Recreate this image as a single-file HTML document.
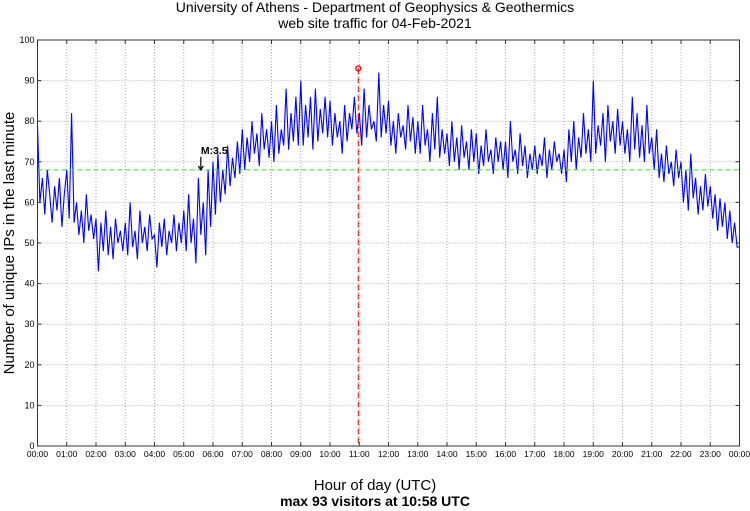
<!DOCTYPE html>
<html><head><meta charset="utf-8"><style>
html,body{margin:0;padding:0;background:#fff;}
svg{display:block;font-family:"Liberation Sans",sans-serif;}
</style></head><body>
<svg width="750" height="511" viewBox="0 0 750 511" id="chart">
<text x="375" y="12" text-anchor="middle" font-size="14">University of Athens - Department of Geophysics &amp; Geothermics</text>
<text x="375" y="28" text-anchor="middle" font-size="14">web site traffic for 04-Feb-2021</text>
<g id="grid"></g>
<g id="series"></g>
<g id="axes"></g>
<text x="375" y="490" text-anchor="middle" font-size="15">Hour of day (UTC)</text>
<text x="375" y="506" text-anchor="middle" font-size="14" font-weight="bold">max 93 visitors at 10:58 UTC</text>
<text transform="translate(14,243) rotate(-90)" text-anchor="middle" font-size="15">Number of unique IPs in the last minute</text>
</svg>
<script>
const visitors = [
79,60,66,57,68,62,55,64,58,66,54,62,
68,56,82,55,60,52,58,50,62,53,57,51,
56,43,55,48,58,47,54,46,56,50,53,48,
55,47,60,49,53,46,58,50,54,48,57,51,
52,44,55,49,56,47,53,50,57,48,55,50,
58,48,62,50,56,45,66,52,60,47,68,54,
70,57,72,60,68,62,74,64,71,66,75,67,
78,68,76,70,80,72,77,69,82,73,78,71,
80,70,84,72,78,74,88,73,82,75,86,74,
90,74,84,76,86,73,88,75,83,77,86,76,
85,74,82,76,80,72,84,75,82,78,86,77,
82,74,88,76,84,78,80,75,92,76,84,77,
85,74,80,72,82,76,79,73,84,75,81,72,
80,72,84,74,78,70,82,73,86,71,78,72,
77,69,80,70,76,68,79,71,75,68,78,70,
77,67,74,69,78,70,73,67,76,70,75,68,
75,66,80,70,73,67,77,69,74,66,72,68,
74,67,72,69,76,66,73,68,75,70,72,67,
73,65,78,70,80,68,76,71,82,72,78,70,
90,72,79,74,82,70,84,75,80,72,83,74,
80,72,78,70,86,73,82,71,79,70,84,72,
76,68,78,66,72,65,74,67,70,64,73,66,
70,60,68,58,72,61,66,57,64,58,67,59,
64,56,62,53,61,54,60,51,58,50,55,49,
49];
const minuteStep = [5];
const xTickLabels = ["00:00","01:00","02:00","03:00","04:00","05:00","06:00","07:00","08:00","09:00","10:00","11:00","12:00","13:00","14:00","15:00","16:00","17:00","18:00","19:00","20:00","21:00","22:00","23:00","00:00"];
const yTicks = [0,10,20,30,40,50,60,70,80,90,100];
const meanLevel = [68];
const maxPoint = [658, 93];
const markerM = [335, "M:3.5"];

const L=37.5,R=739.5,T=40,B=446;
const xs=m=>L+(R-L)*m/1440;
const ys=v=>B-(B-T)*v/100;
const NS="http://www.w3.org/2000/svg";
function mk(tag,attrs,parent){const e=document.createElementNS(NS,tag);for(const k in attrs)e.setAttribute(k,attrs[k]);parent.appendChild(e);return e;}
const grid=document.getElementById('grid'),axes=document.getElementById('axes'),series=document.getElementById('series');

yTicks.forEach(v=>{
  if(v>0&&v<100){const g=mk('line',{x1:L,x2:R,y1:ys(v),y2:ys(v),stroke:'#aaa','stroke-dasharray':'1,2','stroke-width':1},grid);
  
  }
  const t=mk('text',{x:L-3,y:ys(v)+3,'text-anchor':'end','font-size':9},axes);t.textContent=v;
  
  
  mk('line',{x1:L,x2:L+4,y1:ys(v),y2:ys(v),stroke:'#333'},axes);
  mk('line',{x1:R,x2:R-4,y1:ys(v),y2:ys(v),stroke:'#333'},axes);
});
xTickLabels.forEach((lab,i)=>{
  const x=xs(i*60);
  if(i>0&&i<24){const g=mk('line',{x1:x,x2:x,y1:T,y2:B,stroke:'#aaa','stroke-dasharray':'1,2','stroke-width':1},grid);
  
  }
  mk('line',{x1:x,x2:x,y1:B,y2:B-4,stroke:'#333'},axes);
  mk('line',{x1:x,x2:x,y1:T,y2:T+4,stroke:'#333'},axes);
  const t=mk('text',{x:x,y:B+11,'text-anchor':'middle','font-size':8.5},axes);t.textContent=lab;
  
  
});
const fr=mk('rect',{x:L,y:T,width:R-L,height:B-T,fill:'none',stroke:'#333','stroke-width':1},axes);



const pts=visitors.map((v,i)=>xs(i*minuteStep[0]).toFixed(1)+','+ys(v).toFixed(1)).join(' ');
const pl=mk('polyline',{points:pts,fill:'none',stroke:'#0000ff','stroke-width':1.1},series);



const ml=mk('line',{x1:L,x2:R,y1:ys(meanLevel[0]),y2:ys(meanLevel[0]),stroke:'#33dd33','stroke-dasharray':'5,3','stroke-width':1},series);



const vx=xs(maxPoint[0]);
const rl=mk('line',{x1:vx,x2:vx,y1:ys(maxPoint[1]),y2:B,stroke:'#ff0000','stroke-dasharray':'6,3','stroke-width':1},series);


const mc=mk('circle',{cx:vx,cy:ys(maxPoint[1]),r:2.5,fill:'none',stroke:'#ff0000','stroke-width':1.3},series);



const ax=xs(markerM[0]);
const ay=ys(meanLevel[0]);
const ar=mk('path',{d:`M${ax} ${ay-13} V${ay} M${ax-2.5} ${ay-4} L${ax} ${ay} L${ax+2.5} ${ay-4}`,fill:'none',stroke:'#000','stroke-width':1.2},series);


const mt=mk('text',{x:ax,y:ay-16,'font-size':10.5,'font-weight':'bold'},series);mt.textContent=markerM[1];


</script>
</body></html>
